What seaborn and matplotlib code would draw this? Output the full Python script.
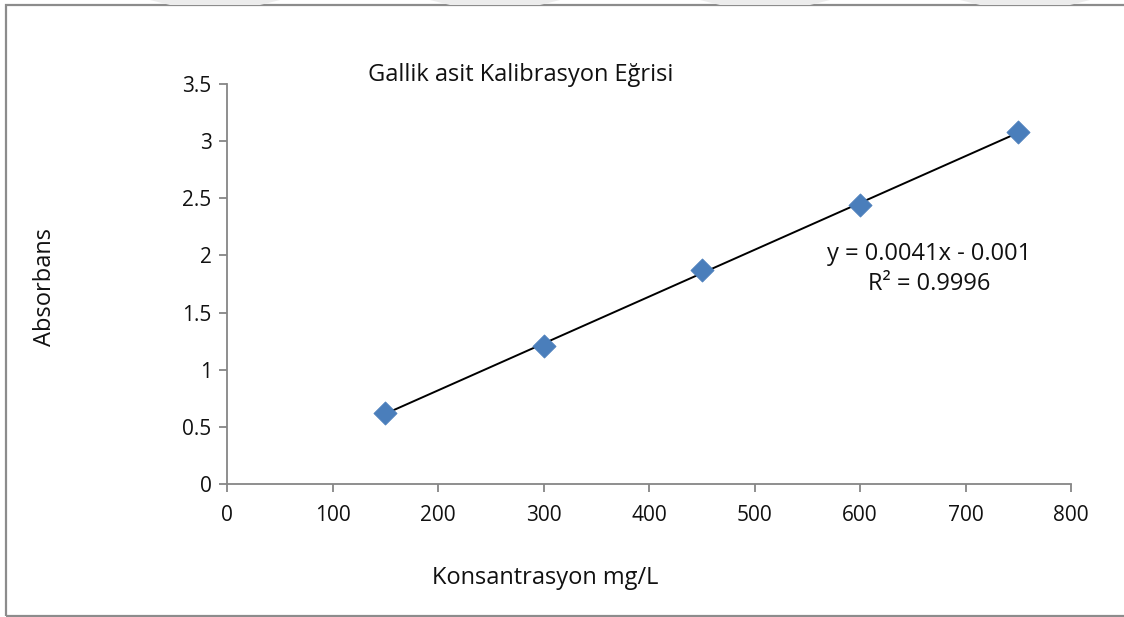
import matplotlib
matplotlib.use("Agg")
import matplotlib.pyplot as plt
from matplotlib.patches import Rectangle, Polygon
import seaborn as sns
import pandas as pd

# Kalibrasyon verileri
konsantrasyon = [150, 300, 450, 600, 750]
absorbans = [0.62, 1.21, 1.87, 2.44, 3.08]
x_ticks = [0, 100, 200, 300, 400, 500, 600, 700, 800]
y_ticks = [0, 0.5, 1, 1.5, 2, 2.5, 3, 3.5]
y_tick_labels = ["0", "0.5", "1", "1.5", "2", "2.5", "3", "3.5"]

df = pd.DataFrame({"konsantrasyon": konsantrasyon, "absorbans": absorbans})

sns.set_style("white")
plt.rcParams["font.family"] = ["Open Sans", "DejaVu Sans"]

fig = plt.figure(figsize=(11.24, 6.17), dpi=100)
ax = fig.add_axes([227 / 1124, 133 / 617, 844 / 1124, 400 / 617])

# Trendlinie (lineare Regression) und Messpunkte
sns.regplot(x="konsantrasyon", y="absorbans", data=df, ax=ax, scatter=False,
            ci=None, truncate=True, line_kws={"color": "black", "lw": 1.4})
sns.scatterplot(x="konsantrasyon", y="absorbans", data=df, ax=ax, marker="D",
                s=140, color="#4A7EBB", edgecolor="#4A7EBB", linewidth=0.5, zorder=3)

ax.set_xlim(0, 800)
ax.set_ylim(0, 3.5)
ax.set_xticks(x_ticks)
ax.set_yticks(y_ticks)
ax.set_yticklabels(y_tick_labels)
ax.tick_params(axis="both", direction="out", length=6, width=1.3, color="#868686",
               labelsize=15, pad=5, left=True, bottom=True, labelcolor="#111111")
ax.tick_params(axis="x", pad=9)
for side in ["top", "right"]:
    ax.spines[side].set_visible(False)
for side in ["left", "bottom"]:
    ax.spines[side].set_color("#868686")
    ax.spines[side].set_linewidth(1.3)

ax.set_xlabel("")
ax.set_ylabel("")
fig.text(545 / 1124, 1 - 578 / 617, "Konsantrasyon mg/L", ha="center", va="center", fontsize=17, color="#111111")
fig.text(45 / 1124, 1 - 287 / 617, "Absorbans", ha="center", va="center", rotation=90, fontsize=17, color="#111111")
fig.text(521 / 1124, 1 - 75 / 617, "Gallik asit Kalibrasyon Eğrisi", ha="center", va="center", fontsize=17, color="#111111")
fig.text(929 / 1124, 1 - 254 / 617, "y = 0.0041x - 0.001", ha="center", va="center", fontsize=17, color="#111111")
fig.text(929 / 1124, 1 - 284 / 617, "R² = 0.9996", ha="center", va="center", fontsize=17, color="#111111")

# Rahmen um das Diagramm
fig.patches.append(Rectangle((6 / 1124, 1 / 617), 1.2, 611 / 617, transform=fig.transFigure,
                             fill=False, edgecolor="#8c8c8c", linewidth=1.6))

# blasses Wasserzeichen oben
for x0 in [150, 430, 700, 960]:
    fig.patches.append(Polygon([((x0) / 1124, 1), ((x0 + 130) / 1124, 1),
                                ((x0 + 110) / 1124, 1 - 5 / 617), ((x0 + 20) / 1124, 1 - 5 / 617)],
                               closed=True, transform=fig.transFigure,
                               facecolor="#ececec", edgecolor="none"))

fig.savefig("out.png", dpi=100)
